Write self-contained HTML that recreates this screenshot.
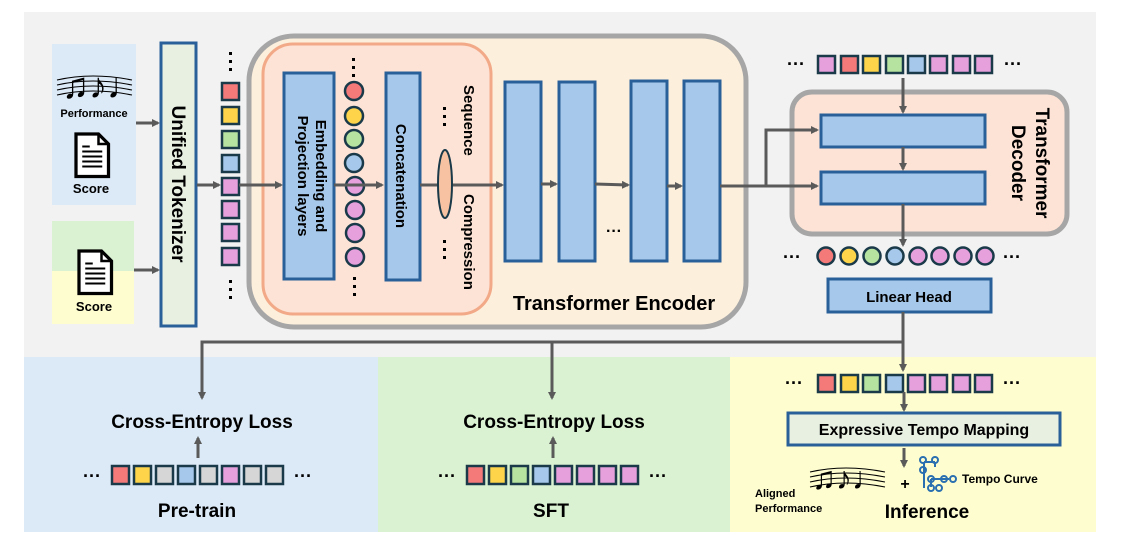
<!DOCTYPE html>
<html><head><meta charset="utf-8"><style>
html,body{margin:0;padding:0;background:#fff;}
svg{display:block;font-family:"Liberation Sans",Arial,sans-serif;}
</style></head><body>
<svg width="1121" height="550" viewBox="0 0 1121 550" xmlns="http://www.w3.org/2000/svg">
<defs>
<marker id="a" markerWidth="8" markerHeight="8" refX="6" refY="4" orient="auto" markerUnits="userSpaceOnUse"><path d="M0,0 L8,4 L0,8 z" fill="#5a5a5a"/></marker>
<g id="doc"><path d="M0,0 h18 l8,8 v26 h-26 z" fill="#fff" stroke="#000" stroke-width="2.6"/><path d="M18,0 v8 h8" fill="none" stroke="#000" stroke-width="2"/><path d="M5,14h16M5,18h16M5,22h16M5,26h16M5,10h6" stroke="#000" stroke-width="1.6"/></g>
<g id="staff"><path d="M0,8 q35,-8 75,0 M0,13 q35,-8 75,0 M0,18 q35,-8 75,0 M0,23 q35,-8 75,0" fill="none" stroke="#000" stroke-width="1"/></g>
</defs>
<rect x="24" y="12" width="1072" height="345" fill="#f2f2f2"/>
<rect x="24" y="357" width="354" height="175" fill="#dce9f6"/>
<rect x="378" y="357" width="352" height="175" fill="#daf2d2"/>
<rect x="730" y="357" width="366" height="175" fill="#fefdd0"/>

<!-- left inputs -->
<rect x="52" y="44" width="84" height="161" fill="#dce9f6"/>
<rect x="52" y="221" width="82" height="50" fill="#daf2d2"/>
<rect x="52" y="271" width="82" height="53" fill="#fefdd0"/>
<use href="#staff" x="57" y="72"/>
<text x="62" y="98" font-size="36">♫♪♩</text>
<text x="94" y="117" font-size="11" font-weight="bold" text-anchor="middle">Performance</text>
<use href="#doc" transform="translate(76,134) scale(1.25)"/>
<text x="91" y="193" font-size="13" font-weight="bold" text-anchor="middle">Score</text>
<use href="#doc" transform="translate(79,251) scale(1.25)"/>
<text x="94" y="311" font-size="13" font-weight="bold" text-anchor="middle">Score</text>
<line x1="136" y1="123" x2="158" y2="123" stroke="#5a5a5a" stroke-width="3" marker-end="url(#a)"/>
<line x1="134" y1="270" x2="158" y2="270" stroke="#5a5a5a" stroke-width="3" marker-end="url(#a)"/>

<rect x="161" y="43" width="35" height="283" fill="#e8f0e2" stroke="#2a6099" stroke-width="3"/>
<text transform="translate(172,184) rotate(90)" font-size="19" font-weight="bold" text-anchor="middle">Unified Tokenizer</text>
<line x1="197" y1="185" x2="219" y2="185" stroke="#5a5a5a" stroke-width="3" marker-end="url(#a)"/>

<!-- token column -->
<g stroke="#1a3a4a" stroke-width="2.5">
<rect x="222" y="83" width="17" height="17" fill="#f47a7a"/>
<rect x="222" y="107" width="17" height="17" fill="#fdd44a"/>
<rect x="222" y="131" width="17" height="17" fill="#b7e3a0"/>
<rect x="222" y="155" width="17" height="17" fill="#a6c8ea"/>
<rect x="222" y="178" width="17" height="17" fill="#e6a0dc"/>
<rect x="222" y="201" width="17" height="17" fill="#e6a0dc"/>
<rect x="222" y="224" width="17" height="17" fill="#e6a0dc"/>
<rect x="222" y="248" width="17" height="17" fill="#e6a0dc"/>
</g>
<g fill="#000"><rect x="229" y="52" width="3" height="3"/><rect x="229" y="60" width="3" height="3"/><rect x="229" y="68" width="3" height="3"/><rect x="229" y="280" width="3" height="3"/><rect x="229" y="288" width="3" height="3"/><rect x="229" y="296" width="3" height="3"/></g>

<!-- encoder -->
<rect x="249" y="36" width="497" height="291" rx="45" fill="#fcefdb" stroke="#a6a6a6" stroke-width="5"/>
<rect x="263" y="44" width="228" height="270" rx="30" fill="#fde3d5" stroke="#f2a987" stroke-width="3"/>
<line x1="239" y1="185" x2="281" y2="185" stroke="#5a5a5a" stroke-width="3" marker-end="url(#a)"/>
<rect x="284" y="73" width="50" height="206" fill="#a6c8ea" stroke="#2a6099" stroke-width="3"/>
<text transform="translate(316,176) rotate(90)" font-size="15" font-weight="bold" text-anchor="middle">Embedding and</text>
<text transform="translate(298,176) rotate(90)" font-size="15" font-weight="bold" text-anchor="middle">Projection layers</text>
<g stroke="#1a3a4a" stroke-width="2.5">
<circle cx="354" cy="91" r="9" fill="#f47a7a"/>
<circle cx="354" cy="116" r="9" fill="#fdd44a"/>
<circle cx="354" cy="139" r="9" fill="#b7e3a0"/>
<circle cx="354" cy="163" r="9" fill="#a6c8ea"/>
<circle cx="355" cy="186" r="9" fill="#e6a0dc"/>
<circle cx="355" cy="210" r="9" fill="#e6a0dc"/>
<circle cx="355" cy="233" r="9" fill="#e6a0dc"/>
<circle cx="355" cy="257" r="9" fill="#e6a0dc"/>
</g>
<g fill="#000"><rect x="352" y="58" width="3" height="3"/><rect x="352" y="66" width="3" height="3"/><rect x="352" y="74" width="3" height="3"/><rect x="353" y="277" width="3" height="3"/><rect x="353" y="285" width="3" height="3"/><rect x="353" y="293" width="3" height="3"/></g>
<line x1="334" y1="185" x2="382" y2="185" stroke="#5a5a5a" stroke-width="3" marker-end="url(#a)"/>
<rect x="386" y="73" width="34" height="207" fill="#a6c8ea" stroke="#2a6099" stroke-width="3"/>
<text transform="translate(396,176) rotate(90)" font-size="15" font-weight="bold" text-anchor="middle">Concatenation</text>
<line x1="420" y1="185" x2="502" y2="185" stroke="#5a5a5a" stroke-width="3" marker-end="url(#a)"/>
<ellipse cx="445" cy="184" rx="7" ry="34" fill="#f6c2a2" stroke="#1a3a4a" stroke-width="2"/>
<g fill="#000"><rect x="443" y="107" width="3" height="3"/><rect x="443" y="115" width="3" height="3"/><rect x="443" y="123" width="3" height="3"/><rect x="443" y="240" width="3" height="3"/><rect x="443" y="248" width="3" height="3"/><rect x="443" y="256" width="3" height="3"/></g>
<text transform="translate(464,85) rotate(90)" font-size="15" font-weight="bold">Sequence</text>
<text transform="translate(464,194) rotate(90)" font-size="15" font-weight="bold">Compression</text>

<g fill="#a6c8ea" stroke="#2a6099" stroke-width="3">
<rect x="505" y="82" width="36" height="179"/>
<rect x="559" y="82" width="36" height="179"/>
<rect x="631" y="81" width="36" height="180"/>
<rect x="684" y="81" width="36" height="180"/>
</g>
<line x1="541" y1="184" x2="556" y2="184" stroke="#5a5a5a" stroke-width="3" marker-end="url(#a)"/>
<line x1="595" y1="184" x2="628" y2="185" stroke="#5a5a5a" stroke-width="3" marker-end="url(#a)"/>
<line x1="667" y1="186" x2="681" y2="186" stroke="#5a5a5a" stroke-width="3" marker-end="url(#a)"/>
<text x="614" y="236" font-size="16" font-weight="bold" text-anchor="middle">···</text>
<text x="614" y="310" font-size="20" font-weight="bold" text-anchor="middle">Transformer Encoder</text>

<!-- decoder -->
<rect x="792" y="92" width="275" height="142" rx="20" fill="#fde3d5" stroke="#a6a6a6" stroke-width="5"/>
<polyline points="720,186 766,186 766,130 817,130" fill="none" stroke="#5a5a5a" stroke-width="3" marker-end="url(#a)"/>
<line x1="766" y1="186" x2="817" y2="186" stroke="#5a5a5a" stroke-width="3" marker-end="url(#a)"/>
<rect x="821" y="115" width="164" height="32" fill="#a6c8ea" stroke="#2a6099" stroke-width="3"/>
<rect x="821" y="172" width="164" height="32" fill="#a6c8ea" stroke="#2a6099" stroke-width="3"/>
<text transform="translate(1036,163) rotate(90)" font-size="19" font-weight="bold" text-anchor="middle">Transformer</text>
<text transform="translate(1012,163) rotate(90)" font-size="19" font-weight="bold" text-anchor="middle">Decoder</text>
<line x1="903" y1="78" x2="903" y2="112" stroke="#5a5a5a" stroke-width="3" marker-end="url(#a)"/>
<line x1="903" y1="147" x2="903" y2="169" stroke="#5a5a5a" stroke-width="3" marker-end="url(#a)"/>
<line x1="903" y1="204" x2="903" y2="245" stroke="#5a5a5a" stroke-width="3" marker-end="url(#a)"/>

<g stroke="#1a3a4a" stroke-width="2.5">
<rect x="818" y="56" width="17" height="17" fill="#e6a0dc"/>
<rect x="841" y="56" width="17" height="17" fill="#f47a7a"/>
<rect x="863" y="56" width="17" height="17" fill="#fdd44a"/>
<rect x="886" y="56" width="17" height="17" fill="#b7e3a0"/>
<rect x="908" y="56" width="17" height="17" fill="#a6c8ea"/>
<rect x="930" y="56" width="17" height="17" fill="#e6a0dc"/>
<rect x="953" y="56" width="17" height="17" fill="#e6a0dc"/>
<rect x="975" y="56" width="17" height="17" fill="#e6a0dc"/>
</g>
<text x="796" y="70" font-size="18" font-weight="bold" text-anchor="middle">···</text>
<text x="1013" y="70" font-size="18" font-weight="bold" text-anchor="middle">···</text>

<g stroke="#1a3a4a" stroke-width="2.5">
<circle cx="826" cy="256" r="8.5" fill="#f47a7a"/>
<circle cx="849" cy="256" r="8.5" fill="#fdd44a"/>
<circle cx="872" cy="256" r="8.5" fill="#b7e3a0"/>
<circle cx="895" cy="256" r="8.5" fill="#a6c8ea"/>
<circle cx="918" cy="256" r="8.5" fill="#e6a0dc"/>
<circle cx="940" cy="256" r="8.5" fill="#e6a0dc"/>
<circle cx="963" cy="256" r="8.5" fill="#e6a0dc"/>
<circle cx="985" cy="256" r="8.5" fill="#e6a0dc"/>
</g>
<text x="792" y="263" font-size="18" font-weight="bold" text-anchor="middle">···</text>
<text x="1012" y="263" font-size="18" font-weight="bold" text-anchor="middle">···</text>
<rect x="828" y="279" width="163" height="33" fill="#a6c8ea" stroke="#2a6099" stroke-width="3"/>
<text x="909" y="302" font-size="15" font-weight="bold" text-anchor="middle">Linear Head</text>

<!-- bottom connectors -->
<line x1="903" y1="312" x2="903" y2="370" stroke="#5a5a5a" stroke-width="3" marker-end="url(#a)"/>
<polyline points="903,342 202,342 202,398" fill="none" stroke="#5a5a5a" stroke-width="3" marker-end="url(#a)"/>
<line x1="552" y1="342" x2="552" y2="398" stroke="#5a5a5a" stroke-width="3" marker-end="url(#a)"/>

<!-- pre-train -->
<text x="202" y="428" font-size="19" font-weight="bold" text-anchor="middle">Cross-Entropy Loss</text>
<line x1="198" y1="458" x2="198" y2="438" stroke="#5a5a5a" stroke-width="3" marker-end="url(#a)"/>
<g stroke="#1a3a4a" stroke-width="2.5">
<rect x="112" y="466" width="17" height="18" fill="#f47a7a"/>
<rect x="134" y="466" width="17" height="18" fill="#fdd44a"/>
<rect x="156" y="466" width="17" height="18" fill="#d6d6d6"/>
<rect x="178" y="466" width="17" height="18" fill="#a6c8ea"/>
<rect x="200" y="466" width="17" height="18" fill="#d6d6d6"/>
<rect x="222" y="466" width="17" height="18" fill="#e6a0dc"/>
<rect x="244" y="466" width="17" height="18" fill="#d6d6d6"/>
<rect x="266" y="466" width="17" height="18" fill="#d6d6d6"/>
</g>
<text x="92" y="482" font-size="18" font-weight="bold" text-anchor="middle">···</text>
<text x="303" y="482" font-size="18" font-weight="bold" text-anchor="middle">···</text>
<text x="197" y="517" font-size="19" font-weight="bold" text-anchor="middle">Pre-train</text>

<!-- SFT -->
<text x="554" y="428" font-size="19" font-weight="bold" text-anchor="middle">Cross-Entropy Loss</text>
<line x1="553" y1="458" x2="553" y2="438" stroke="#5a5a5a" stroke-width="3" marker-end="url(#a)"/>
<g stroke="#1a3a4a" stroke-width="2.5">
<rect x="467" y="466" width="17" height="18" fill="#f47a7a"/>
<rect x="489" y="466" width="17" height="18" fill="#fdd44a"/>
<rect x="511" y="466" width="17" height="18" fill="#b7e3a0"/>
<rect x="533" y="466" width="17" height="18" fill="#a6c8ea"/>
<rect x="555" y="466" width="17" height="18" fill="#e6a0dc"/>
<rect x="577" y="466" width="17" height="18" fill="#e6a0dc"/>
<rect x="599" y="466" width="17" height="18" fill="#e6a0dc"/>
<rect x="621" y="466" width="17" height="18" fill="#e6a0dc"/>
</g>
<text x="447" y="482" font-size="18" font-weight="bold" text-anchor="middle">···</text>
<text x="658" y="482" font-size="18" font-weight="bold" text-anchor="middle">···</text>
<text x="551" y="517" font-size="19" font-weight="bold" text-anchor="middle">SFT</text>

<!-- inference -->
<g stroke="#1a3a4a" stroke-width="2.5">
<rect x="818" y="375" width="17" height="17" fill="#f47a7a"/>
<rect x="841" y="375" width="17" height="17" fill="#fdd44a"/>
<rect x="863" y="375" width="17" height="17" fill="#b7e3a0"/>
<rect x="886" y="375" width="17" height="17" fill="#a6c8ea"/>
<rect x="908" y="375" width="17" height="17" fill="#e6a0dc"/>
<rect x="930" y="375" width="17" height="17" fill="#e6a0dc"/>
<rect x="953" y="375" width="17" height="17" fill="#e6a0dc"/>
<rect x="975" y="375" width="17" height="17" fill="#e6a0dc"/>
</g>
<text x="794" y="389" font-size="18" font-weight="bold" text-anchor="middle">···</text>
<text x="1012" y="389" font-size="18" font-weight="bold" text-anchor="middle">···</text>
<line x1="904" y1="392" x2="904" y2="410" stroke="#5a5a5a" stroke-width="3" marker-end="url(#a)"/>
<rect x="788" y="413" width="272" height="32" fill="#e8f0e2" stroke="#2a6099" stroke-width="3"/>
<text x="924" y="435" font-size="16" font-weight="bold" text-anchor="middle">Expressive Tempo Mapping</text>
<line x1="904" y1="448" x2="904" y2="466" stroke="#5a5a5a" stroke-width="3" marker-end="url(#a)"/>
<text x="905" y="489" font-size="16" font-weight="bold" text-anchor="middle">+</text>
<g fill="none" stroke="#2a6fb0" stroke-width="2">
<path d="M924,462 v26 M935,462 v5 M924,462 h11 M931,479 h18 M931,479 v8"/>
<circle cx="923" cy="460" r="3"/><circle cx="935" cy="460" r="3"/><circle cx="923" cy="470" r="3"/>
<circle cx="931" cy="479" r="3"/><circle cx="944" cy="479" r="3"/><circle cx="953" cy="479" r="3"/><circle cx="931" cy="488" r="3"/><circle cx="939" cy="488" r="3"/>
</g>
<text x="962" y="483" font-size="12" font-weight="bold">Tempo Curve</text>
<use href="#staff" x="810" y="464"/>
<text x="812" y="489" font-size="32">♫♪♩</text>
<text x="755" y="497" font-size="11" font-weight="bold">Aligned</text>
<text x="755" y="512" font-size="11" font-weight="bold">Performance</text>
<text x="927" y="518" font-size="19" font-weight="bold" text-anchor="middle">Inference</text>
</svg>
</body></html>
